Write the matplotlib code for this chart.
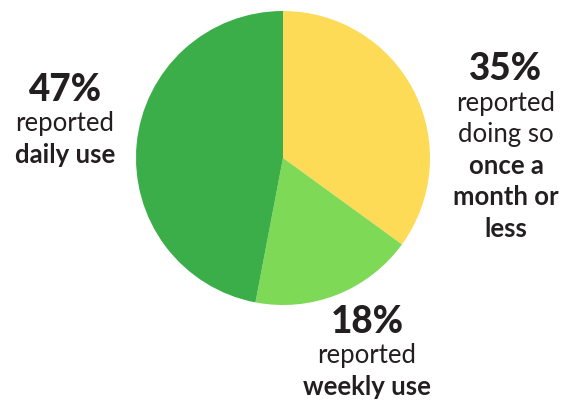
import matplotlib
matplotlib.use("Agg")
import matplotlib.pyplot as plt

# share of respondents by frequency of use
labels = ["once a month or less", "weekly", "daily"]
shares = [35, 18, 47]
colors = ["#FDDB57", "#7ED957", "#3BAE4A"]

plt.rcParams['font.family'] = ['Lato', 'DejaVu Sans']
ink = "#231F20"

fig = plt.figure(figsize=(5.67, 4.02), dpi=100)
ax = fig.add_axes([0, 0, 1, 1])

# y runs downward here, so the pie goes counterclockwise in data terms
ax.pie(shares, colors=colors, startangle=-90, counterclock=True,
       center=(283, 159), radius=147, frame=True,
       wedgeprops=dict(linewidth=0))
ax.set_xlim(0, 567)
ax.set_ylim(402, 0)
ax.set_aspect('equal')
ax.axis('off')


def callout(x, y, pct, lines):
    ax.text(x, y, f"{pct}%", ha='center', va='center', fontsize=26.5,
            fontweight='black', color=ink)
    for i, (txt, bold) in enumerate(lines):
        ax.text(x, y + 34 + i * 31.5, txt, ha='center', va='center',
                fontsize=18.5, fontweight='bold' if bold else 'normal', color=ink)


callout(65, 90, shares[2], [("reported", False), ("daily use", True)])
callout(506, 69, shares[0], [("reported", False), ("doing so", False),
                             ("once a", True), ("month or", True), ("less", True)])
callout(367, 322, shares[1], [("reported", False), ("weekly use", True)])

fig.savefig("out.png", dpi=100)
